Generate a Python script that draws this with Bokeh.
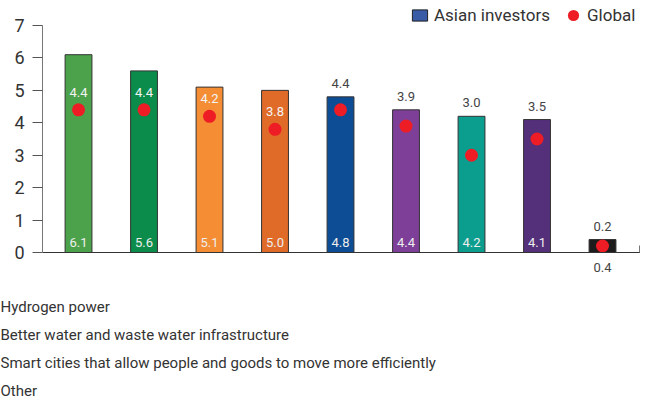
from bokeh.plotting import figure
from bokeh.models import (ColumnDataSource, Range1d, FixedTicker, LinearAxis, Legend, LegendItem, Title)
from bokeh.embed import file_html
from bokeh.resources import INLINE
from bokeh.core.properties import value

# ---- data ----
positions = [1, 2, 3, 4, 5, 6, 7, 8, 9]
asian_investors = [6.1, 5.6, 5.1, 5.0, 4.8, 4.4, 4.2, 4.1, 0.4]
global_values = [4.4, 4.4, 4.2, 3.8, 4.4, 3.9, 3.0, 3.5, 0.2]
bar_colors = ["#4ca24a", "#0b8c4a", "#f48d33", "#e06b28", "#0d4d95",
              "#7d3f98", "#0b9e8f", "#542f7a", "#1e1b1c"]
y_ticks = [0, 1, 2, 3, 4, 5, 6, 7]
footer_lines = ["Hydrogen power",
                "Better water and waste water infrastructure",
                "Smart cities that allow people and goods to move more efficiently",
                "Other"]

FONT = "Roboto"
nan = float("nan")
FRAME_H = 291
END_TICK = 9.56

p = figure(frame_width=598, frame_height=FRAME_H, output_backend="svg", toolbar_location=None,
           x_range=Range1d(0.45, 9.58), y_range=Range1d(7.771 - FRAME_H / 32.43, 7.771),
           x_axis_location=None, y_axis_location=None,
           min_border_left=42, min_border_right=0, min_border_top=0, min_border_bottom=0)
p.grid.visible = False
p.outline_line_color = None
p.background_fill_color = "white"

# y axis
yax = LinearAxis(ticker=FixedTicker(ticks=y_ticks), bounds=(0, 7))
yax.axis_line_color = "#777777"
yax.major_tick_line_color = "#555555"
yax.major_tick_out = 10
yax.major_tick_in = 0
yax.minor_tick_line_color = None
yax.major_label_text_font = FONT
yax.major_label_text_font_size = "18px"
yax.major_label_text_color = "#333333"
yax.major_label_standoff = 8
p.add_layout(yax, "left")

# x axis (baseline at 0), only an end tick, no label
xax = LinearAxis(ticker=FixedTicker(ticks=[END_TICK]), fixed_location=0)
xax.axis_line_color = "#333333"
xax.major_tick_line_color = "#777777"
xax.major_tick_in = 7
xax.major_tick_out = 0
xax.minor_tick_line_color = None
xax.major_label_overrides = {END_TICK: ""}
xax.major_label_standoff = 0
p.add_layout(xax, "below")

n = len(positions)
inside = [i < 4 for i in range(n)]
glabel_y = [global_values[i] if inside[i] else asian_investors[i] for i in range(n)]
glabel_off = [-13 if inside[i] else -9 for i in range(n)]
glabel_col = ["#f4f4f4" if inside[i] else "#444444" for i in range(n)]
vlabel_col = ["#eeeeee" if i < 8 else "#444444" for i in range(n)]
vlabel_off = [-6 if i < 8 else 10 for i in range(n)]
vlabel_base = ["bottom" if i < 8 else "top" for i in range(n)]

src = ColumnDataSource(dict(
    x=positions, top=asian_investors, g=global_values, color=bar_colors,
    gtxt=[f"{v:.1f}" for v in global_values], vtxt=[f"{v:.1f}" for v in asian_investors],
    gy=glabel_y, goff=glabel_off, gcol=glabel_col,
    vy=[0] * n, vcol=vlabel_col, voff=vlabel_off, vbase=vlabel_base,
))

p.vbar(x="x", top="top", bottom=0, width=0.41, fill_color="color",
       line_color="#333333", line_width=1, source=src)
p.scatter(x="x", y="g", size=13, fill_color="#ee1c25", line_color=None, source=src)

p.text(x="x", y="gy", text="gtxt", y_offset="goff", text_color="gcol",
       text_align="center", text_baseline="bottom", text_font=value(FONT),
       text_font_size="13px", source=src)
p.text(x="x", y="vy", text="vtxt", y_offset="voff", text_color="vcol",
       text_align="center", text_baseline="vbase", text_font=value(FONT),
       text_font_size="13px", source=src)

# legends (dummy renderers, not visible in the plot)
leg_bar = p.vbar(x=[nan], top=[nan], width=0.4, fill_color="#3a5ba6", line_color="#222222")
leg_dot = p.scatter(x=[nan], y=[nan], size=13, fill_color="#ee1c25", line_color=None)
common = dict(orientation="horizontal", border_line_color=None, background_fill_alpha=0,
              padding=0, margin=0, label_text_font=FONT, label_text_font_size="17px",
              label_text_color="#333333", label_height=14)
legend_dot = Legend(items=[LegendItem(label="Global", renderers=[leg_dot])],
                    location=(517, FRAME_H - 1 - 28), glyph_width=28, glyph_height=28,
                    label_standoff=-5, **common)
legend_bar = Legend(items=[LegendItem(label="Asian investors", renderers=[leg_bar])],
                    location=(368, FRAME_H - 25), glyph_width=19, glyph_height=14,
                    label_standoff=5, **common)
p.add_layout(legend_dot)
p.add_layout(legend_bar)

# footer text lines
for line in footer_lines:
    p.add_layout(Title(text=line, align="left", offset=-42, standoff=8,
                       text_font=FONT, text_font_size="15px", text_font_style="normal",
                       text_color="#333333"), "below")

open("out.html", "w").write(file_html(p, INLINE))
